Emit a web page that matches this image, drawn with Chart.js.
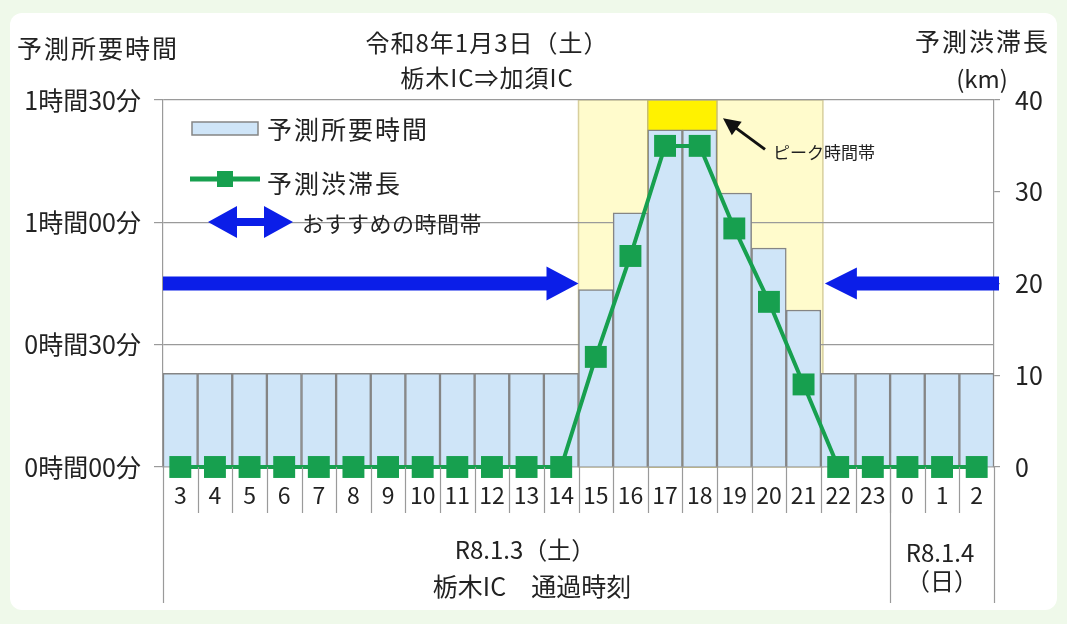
<!DOCTYPE html>
<html lang="ja">
<head>
<meta charset="utf-8">
<script src="https://cdn.jsdelivr.net/npm/chart.js@4.4.1/dist/chart.umd.min.js"></script>
<style>
html, body { margin: 0; padding: 0; background: #eff9ea; }
#wrap { position: relative; width: 1067px; height: 624px; overflow: hidden; font-family: "Noto Sans CJK JP", sans-serif; color: #222; }
#panel { position: absolute; left: 10px; top: 13px; width: 1047px; height: 597px; background: #fff; border-radius: 12px; }
canvas { position: absolute; left: 0; top: 0; }
.t { position: absolute; white-space: nowrap; line-height: 1; transform: translateY(-50%); }
.c { transform: translate(-50%, -50%); }
</style>
</head>
<body>
<div id="wrap">
  <div id="panel"></div>
  <canvas id="jam-chart" width="1067" height="624"></canvas>

  <div class="t" style="left:17px;top:47px;font-size:25px;letter-spacing:2px;">予測所要時間</div>
  <div class="t c" style="left:487px;top:42px;font-size:24px;letter-spacing:1px;">令和8年1月3日（土）</div>
  <div class="t c" style="left:487px;top:77px;font-size:24px;letter-spacing:1px;">栃木IC⇒加須IC</div>
  <div class="t" style="right:17px;top:40px;font-size:25px;letter-spacing:2px;">予測渋滞長</div>
  <div class="t c" style="left:982px;top:78px;font-size:24px;">(km)</div>

  <div class="t" style="left:267px;top:128px;font-size:25px;letter-spacing:2px;">予測所要時間</div>
  <div class="t" style="left:267px;top:182px;font-size:25px;letter-spacing:2px;">予測渋滞長</div>
  <div class="t" style="left:302px;top:222px;font-size:22px;letter-spacing:0.5px;">おすすめの時間帯</div>
  <div class="t" style="left:773px;top:151px;font-size:17px;">ピーク時間帯</div>

  <div class="t c" style="left:525px;top:549px;font-size:24px;">R8.1.3（土）</div>
  <div class="t c" style="left:532px;top:585px;font-size:25px;">栃木IC　通過時刻</div>
  <div class="t c" style="left:940px;top:552px;font-size:24px;">R8.1.4</div>
  <div class="t c" style="left:942px;top:580px;font-size:24px;">（日）</div>
</div>

<script>
// passing hour at Tochigi IC (3:00 on the 3rd .. 2:00 on the 4th)
const hours = ['3','4','5','6','7','8','9','10','11','12','13','14','15','16','17','18','19','20','21','22','23','0','1','2'];
// predicted travel time (minutes)
const travelMinutes = [23,23,23,23,23,23,23,23,23,23,23,23,43.5,62.3,82.7,82.7,67.2,53.7,38.5,23,23,23,23,23];
// predicted jam length (km)
const jamKm = [0,0,0,0,0,0,0,0,0,0,0,0,12,23,35,35,26,18,9,0,0,0,0,0];
const timeTicks = [0, 30, 60, 90];
const kmTicks = [0, 10, 20, 30, 40];

// peak band and recommended level
const peakFrom = '15', peakTo = '21';
const peakTopFrom = '17', peakTopTo = '18';
const nextDayFrom = '0';
const arrowAt = 45;   // minutes

const GRID = '#9a9a9a';
const BLUE = '#0b1ee8';
const GREEN = '#17a04f';

Chart.defaults.font.family = '"Noto Sans CJK JP", sans-serif';
Chart.defaults.color = '#222';

function fmtTime(v) {
  const h = Math.floor(v / 60);
  const m = v % 60;
  return h + '時間' + (m < 10 ? '0' + m : m) + '分';
}

function hArrow(ctx, tail, tip, y, shaft, headLen, headH) {
  const dir = tip > tail ? 1 : -1;
  const base = tip - dir * headLen;
  ctx.beginPath();
  ctx.moveTo(tail, y - shaft / 2);
  ctx.lineTo(base, y - shaft / 2);
  ctx.lineTo(base, y - headH / 2);
  ctx.lineTo(tip, y);
  ctx.lineTo(base, y + headH / 2);
  ctx.lineTo(base, y + shaft / 2);
  ctx.lineTo(tail, y + shaft / 2);
  ctx.closePath();
  ctx.fill();
}

const deco = {
  id: 'deco',
  beforeDraw(chart) {
    const ctx = chart.ctx, x = chart.scales.x, y = chart.scales.y;
    const cw = (x.right - x.left) / hours.length;
    const edge = (lab, end) => x.left + (hours.indexOf(lab) + (end ? 1 : 0)) * cw;
    ctx.save();
    // peak band
    ctx.fillStyle = '#fffbcc';
    ctx.fillRect(edge(peakFrom), y.top, edge(peakTo, true) - edge(peakFrom) + 2, y.bottom - y.top);
    ctx.strokeStyle = '#d8cf9c';
    ctx.lineWidth = 1.5;
    ctx.strokeRect(edge(peakFrom), y.top, edge(peakTo, true) - edge(peakFrom) + 2, y.bottom - y.top);
    ctx.fillStyle = '#fff200';
    ctx.fillRect(edge(peakTopFrom), y.top, edge(peakTopTo, true) - edge(peakTopFrom), y.bottom - y.top);
    ctx.strokeStyle = '#c9bf70';
    ctx.strokeRect(edge(peakTopFrom), y.top, edge(peakTopTo, true) - edge(peakTopFrom), y.bottom - y.top);
    ctx.restore();
  },
  afterDatasetsDraw(chart) {
    const ctx = chart.ctx, x = chart.scales.x, y = chart.scales.y;
    const cw = (x.right - x.left) / hours.length;
    const edge = (lab, end) => x.left + (hours.indexOf(lab) + (end ? 1 : 0)) * cw;
    ctx.save();

    // recommended time arrows
    ctx.fillStyle = BLUE;
    const ay = y.getPixelForValue(arrowAt);
    hArrow(ctx, x.left, edge(peakFrom), ay, 14, 32, 34);
    hArrow(ctx, x.right + 5, edge(peakTo, true) + 4, ay, 14, 32, 32);

    // peak label pointer
    const tipX = edge(peakTopTo, true) + 6, tipY = y.getPixelForValue(85.5);
    ctx.strokeStyle = '#111';
    ctx.fillStyle = '#111';
    ctx.lineWidth = 3;
    ctx.beginPath();
    ctx.moveTo(tipX + 42, tipY + 31);
    ctx.lineTo(tipX + 8, tipY + 6);
    ctx.stroke();
    const a = Math.atan2(31, 42);
    ctx.beginPath();
    ctx.moveTo(tipX, tipY);
    ctx.lineTo(tipX + 19 * Math.cos(a - 0.45), tipY + 19 * Math.sin(a - 0.45));
    ctx.lineTo(tipX + 19 * Math.cos(a + 0.45), tipY + 19 * Math.sin(a + 0.45));
    ctx.closePath();
    ctx.fill();

    // legend symbols
    const lx = x.left, ly = y.top;
    ctx.fillStyle = '#cfe5f8';
    ctx.fillRect(lx + 29, ly + 22, 66, 13);
    ctx.strokeStyle = '#858585';
    ctx.lineWidth = 1.5;
    ctx.strokeRect(lx + 29, ly + 22, 66, 13);
    ctx.strokeStyle = GREEN;
    ctx.lineWidth = 5;
    ctx.beginPath();
    ctx.moveTo(lx + 27, ly + 79);
    ctx.lineTo(lx + 97, ly + 79);
    ctx.stroke();
    ctx.fillStyle = GREEN;
    ctx.fillRect(lx + 54, ly + 71, 16, 16);
    ctx.fillStyle = BLUE;
    hArrow(ctx, lx + 88, lx + 45, ly + 122, 8, 29, 32);
    hArrow(ctx, lx + 70, lx + 130, ly + 122, 8, 29, 32);

    // hour separators below the axis
    ctx.strokeStyle = GRID;
    ctx.lineWidth = 1.2;
    for (let i = 1; i < hours.length; i++) {
      const px = Math.round(x.left + i * cw) + 0.5;
      ctx.beginPath();
      ctx.moveTo(px, y.bottom);
      ctx.lineTo(px, y.bottom + 46);
      ctx.stroke();
    }
    [x.left, edge(nextDayFrom), x.right].forEach((px) => {
      px = Math.round(px) + 0.5;
      ctx.beginPath();
      ctx.moveTo(px, y.bottom);
      ctx.lineTo(px, 603);
      ctx.stroke();
    });
    ctx.restore();
  }
};

new Chart(document.getElementById('jam-chart'), {
  data: {
    labels: hours,
    datasets: [
      {
        type: 'line',
        label: '予測渋滞長',
        data: jamKm,
        yAxisID: 'y1',
        borderColor: GREEN,
        borderWidth: 4,
        pointStyle: 'rect',
        pointRadius: 15.5,
        pointBackgroundColor: GREEN,
        pointBorderWidth: 0,
        tension: 0,
        clip: false,
        order: 0
      },
      {
        type: 'bar',
        label: '予測所要時間',
        data: travelMinutes,
        yAxisID: 'y',
        backgroundColor: '#cfe5f8',
        borderColor: '#858585',
        borderWidth: 1.5,
        barPercentage: 1,
        categoryPercentage: 1,
        order: 1
      }
    ]
  },
  options: {
    responsive: false,
    animation: false,
    layout: { padding: { top: 100, left: 0, right: 0, bottom: 0 } },
    plugins: { legend: { display: false }, tooltip: { enabled: false } },
    scales: {
      x: {
        type: 'category',
        grid: { display: false, drawTicks: false },
        border: { display: true, color: GRID, width: 1.2 },
        ticks: { font: { size: 23 }, color: '#222', padding: 14, maxRotation: 0, autoSkip: false },
        afterFit: (s) => { s.height = 157; }
      },
      y: {
        position: 'left',
        min: 0,
        max: 90,
        afterBuildTicks: (s) => { s.ticks = timeTicks.map((v) => ({ value: v })); },
        grid: { color: GRID, lineWidth: 1.2, tickLength: 9 },
        border: { color: GRID, width: 1.2 },
        ticks: { font: { size: 25 }, color: '#222', padding: 13, callback: (v) => fmtTime(v) },
        afterFit: (s) => { s.width = 163; }
      },
      y1: {
        position: 'right',
        min: 0,
        max: 40,
        afterBuildTicks: (s) => { s.ticks = kmTicks.map((v) => ({ value: v })); },
        grid: { drawOnChartArea: false, color: GRID, lineWidth: 1.2, tickLength: 6 },
        border: { color: GRID, width: 1.2 },
        ticks: { font: { size: 25 }, color: '#222', padding: 15 },
        afterFit: (s) => { s.width = 73; }
      }
    }
  },
  plugins: [deco]
});
</script>
</body>
</html>
